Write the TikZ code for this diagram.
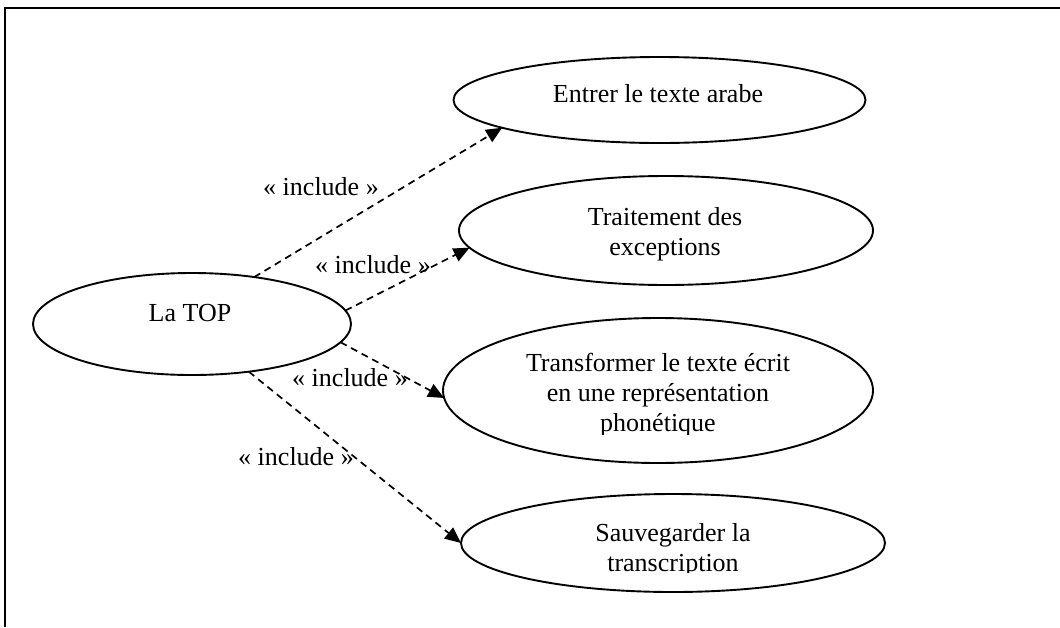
\documentclass[tikz,border=0pt]{standalone}
\usepackage{fontspec}
\setmainfont{Liberation Serif}
\usetikzlibrary{shapes.geometric,arrows.meta}
\begin{document}
\begin{tikzpicture}[x=1pt,y=-1pt,
  usecase/.style={ellipse,draw,line width=1.9pt,inner sep=0pt,outer sep=0pt},
  txt/.style={font=\fontsize{26}{30}\selectfont,inner sep=0pt,align=center},
  incl/.style={draw,line width=1.7pt,dash pattern=on 7pt off 5pt,
    -{Triangle[length=16pt,width=14pt]}}
]
\useasboundingbox (0,0) rectangle (1060,627);
% frame of the sheet
\draw[line width=2.6pt] (5,627) -- (5,8) -- (1060,8);

% use cases
\node[usecase,minimum width=318pt,minimum height=102pt] (latop) at (192,324) {};
\node[usecase,minimum width=412pt,minimum height=86pt] (entrer) at (659.5,100) {};
\node[usecase,minimum width=414pt,minimum height=109pt] (traitement) at (666,230.5) {};
\node[usecase,minimum width=430pt,minimum height=145pt] (transformer) at (658,390.5) {};
\node[usecase,minimum width=424pt,minimum height=98pt] (sauver) at (673,543) {};

% use case texts
\node[txt,anchor=base] (latopText) at (190,321) {La TOP};
\node[txt,anchor=base] (entrerText) at (658,102) {Entrer le texte arabe};
\node[txt] (traitementText) at (665,234) {Traitement des\\exceptions};
\begin{scope}
  \clip (443,318) rectangle (873,434.5);
  \node[txt] (transformerText) at (658,395) {Transformer le texte écrit\\en une représentation\\phonétique};
\end{scope}
\begin{scope}
  \clip (461,494) rectangle (885,572.5);
  \node[txt] (sauverText) at (673,550) {Sauvegarder la\\transcription};
\end{scope}

% include relations
\draw[incl] (latop.37) -- (entrer.190);
\draw[incl] (latop.5) -- (traitement.185);
\draw[incl] (latop.-7) -- (transformer.182.5);
\draw[incl] (latop.-40) -- (sauver.180);

\node[txt] (inc1) at (321,187) {« include »};
\node[txt] (inc2) at (373,265) {« include »};
\node[txt] (inc3) at (350,378) {« include »};
\node[txt] (inc4) at (296,457) {« include »};
\end{tikzpicture}
\end{document}
